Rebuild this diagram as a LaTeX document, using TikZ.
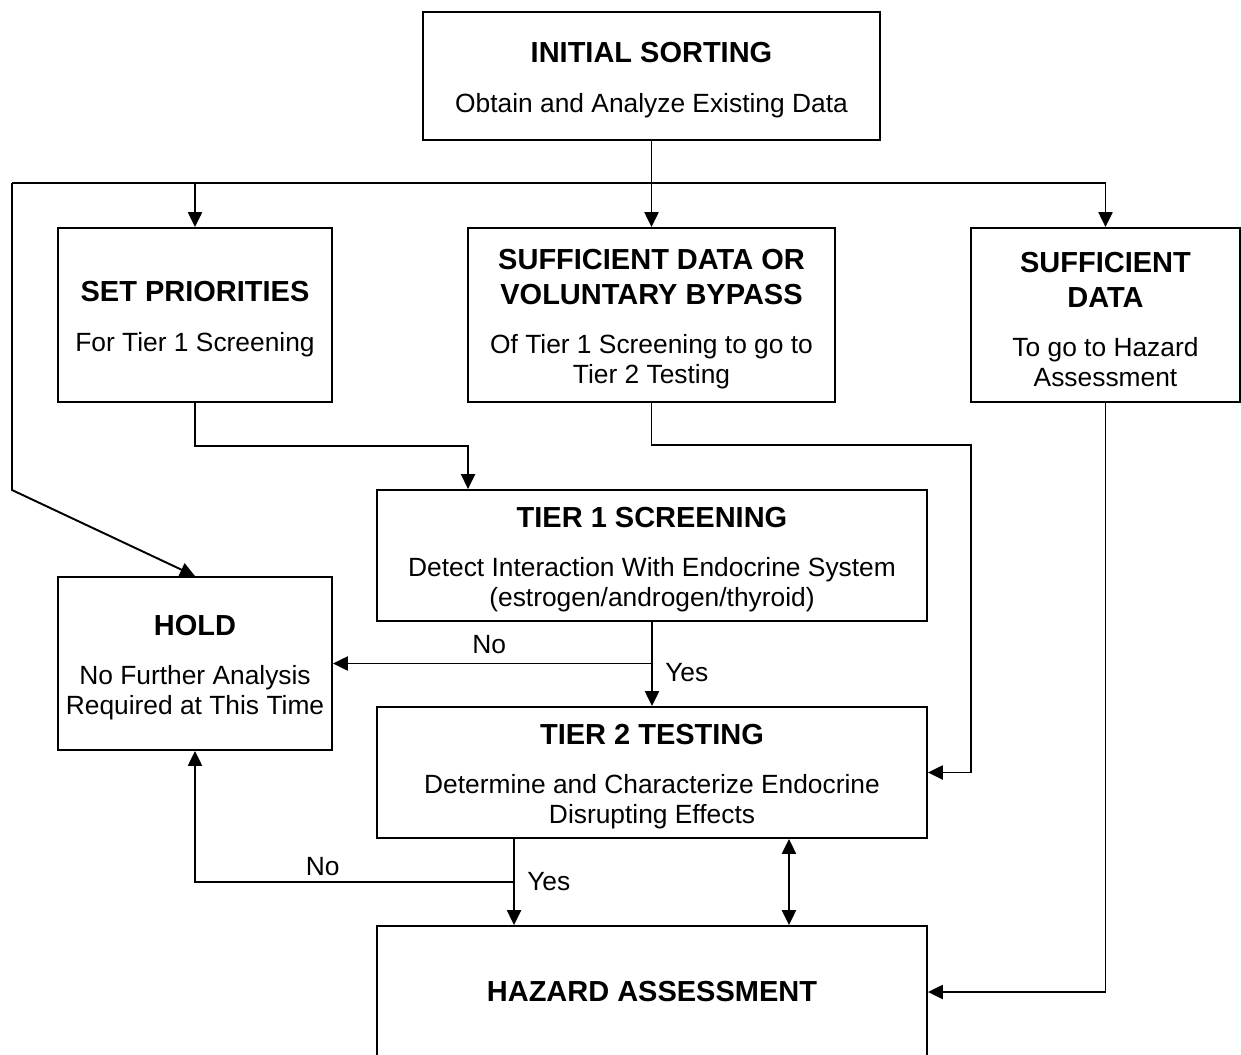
\documentclass[tikz,border=0pt]{standalone}
\usepackage{fontspec}
\setmainfont{Liberation Sans}
\usepackage{tikz}
\usetikzlibrary{arrows.meta}
\tikzstyle{block} = [draw, rectangle, inner sep=0pt, align=center, font=\fontsize{15}{17}\selectfont]
\tikzstyle{conn} = [draw, -{Triangle[length=8.5pt,width=8pt]}]
\tikzstyle{both} = [draw, {Triangle[length=8.5pt,width=8pt]}-{Triangle[length=8.5pt,width=8pt]}]
\tikzstyle{tag} = [font=\fontsize{15}{17}\selectfont, inner sep=2pt]
\newcommand{\ttl}{\fontsize{16.5}{19}\bfseries}
\newcommand{\topgap}{\rule{0pt}{16.3pt}}

\begin{document}
\begin{tikzpicture}[x=0.02cm, y=-0.02cm, line width=1.1pt]
		\clip (0,0) rectangle (1241,1055);
		\node [block, minimum width=9.14cm, minimum height=2.56cm] (init) at (651.5,76) {\topgap{\ttl INITIAL SORTING}\\[11pt] Obtain and Analyze Existing Data};
		\node [block, minimum width=5.48cm, minimum height=3.48cm] (setp) at (195,315) {\topgap{\ttl SET PRIORITIES}\\[11pt] For Tier 1 Screening};
		\node [block, minimum width=7.34cm, minimum height=3.48cm] (byp) at (651.5,315) {\topgap{\ttl SUFFICIENT DATA OR}\\[3pt] {\ttl VOLUNTARY BYPASS}\\[11pt] Of Tier 1 Screening to go to\\ Tier 2 Testing};
		\node [block, minimum width=5.38cm, minimum height=3.48cm] (suff) at (1105.5,315) {\topgap{\ttl SUFFICIENT}\\[3pt] {\ttl DATA}\\[11pt] To go to Hazard\\ Assessment};
		\node [block, minimum width=11cm, minimum height=2.62cm] (tier1) at (652,555.5) {\topgap{\ttl TIER 1 SCREENING}\\[11pt] Detect Interaction With Endocrine System\\ (estrogen/androgen/thyroid)};
		\node [block, minimum width=5.48cm, minimum height=3.46cm] (hold) at (195,663.5) {\topgap{\ttl HOLD}\\[11pt] No Further Analysis\\ Required at This Time};
		\node [block, minimum width=11cm, minimum height=2.62cm] (tier2) at (652,772.5) {\topgap{\ttl TIER 2 TESTING}\\[11pt] Determine and Characterize Endocrine\\ Disrupting Effects};
		\node [block, minimum width=11cm, minimum height=2.64cm] (haz) at (652,992) {{\ttl HAZARD ASSESSMENT}};

		\coordinate (lt) at (12,183);
		\coordinate (lb) at (12,490);
		\coordinate (rt) at (971,445);

		% top distribution
		\draw (lt) -- (lt -| suff.north);
		\draw [conn] (init) -- (byp);
		\draw [conn] (lt -| setp.north) -- (setp.north);
		\draw [conn] (lt -| suff.north) -- (suff.north);
		\draw [conn] (lt) -- (lb) -- (hold.north);

		\draw [conn] (setp.south) -- ++(0,43) -| ([xshift=-3.68cm]tier1.north);
		\draw [conn] (byp.south) |- (rt) |- (tier2.east);
		\draw [conn] (suff.south) |- (haz.east);

		% tier 1 outcomes
		\draw [conn] (tier1) -- node[tag, right=5pt, pos=0.6] (yes1) {Yes} (tier2);
		\draw [conn] (tier1.south |- hold.east) -- node[tag, above=3pt, pos=0.51] (no1) {No} (hold.east);

		% tier 2 outcomes
		\draw [conn] ([xshift=-2.76cm]tier2.south) -- node[tag, right=5pt, pos=0.5] (yes2) {Yes} ([xshift=-2.76cm]haz.north);
		\draw [conn] ([xshift=-2.76cm]tier2.south |- 0,882) -| node[tag, above=1pt, pos=0.3] (no2) {No} (hold.south);
		\draw [both] ([xshift=2.74cm]tier2.south) -- ([xshift=2.74cm]haz.north);
\end{tikzpicture}
\end{document}
